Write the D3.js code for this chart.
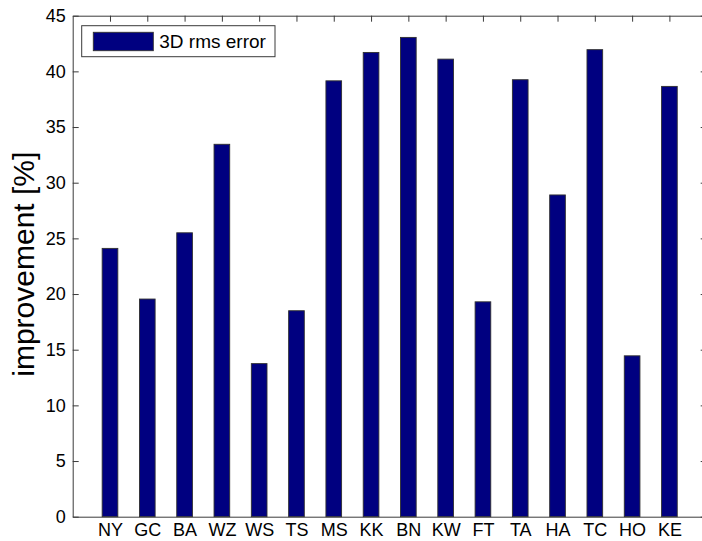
<!DOCTYPE html>
<html>
<head>
<meta charset="utf-8">
<script src="https://cdn.jsdelivr.net/npm/d3@7"></script>
<style>
  html, body { margin: 0; padding: 0; background: #fff; }
  svg { display: block; font-family: "Liberation Sans", Arial, Helvetica, sans-serif; }
</style>
</head>
<body>
<svg id="chart" width="702" height="541"></svg>
<script>
// Sites and their improvement of the 3D rms error, in percent
const sites = ["NY", "GC", "BA", "WZ", "WS", "TS", "MS", "KK", "BN", "KW", "FT", "TA", "HA", "TC", "HO", "KE"];
const improvement = [24.1, 19.55, 25.5, 33.45, 13.75, 18.5, 39.15, 41.7, 43.05, 41.1, 19.3, 39.25, 28.9, 41.95, 14.45, 38.65];
const yTicks = [0, 5, 10, 15, 20, 25, 30, 35, 40, 45];
const seriesName = "3D rms error";

const svg = d3.select("#chart");
const plotLeft = 72.7, plotRight = 706.7, plotTop = 15.7, plotBottom = 516.7;

const x = d3.scaleLinear().domain([0, sites.length + 1]).range([plotLeft, plotRight]);
const y = d3.scaleLinear().domain([0, 45]).range([plotBottom, plotTop]);
const barW = x(0.42) - x(0);
const idx = d3.range(1, sites.length + 1);

// bars
svg.append("g").selectAll("rect")
  .data(improvement)
  .join("rect")
  .attr("x", (d, i) => x(i + 1) - barW / 2)
  .attr("y", d => y(d))
  .attr("width", barW)
  .attr("height", d => y(0) - y(d))
  .attr("fill", "#000080")
  .attr("stroke", "#303030")
  .attr("stroke-width", 0.9);

const axisColor = "#3a3a3a";
const tickFont = 18;

function styleAxis(g) {
  g.selectAll(".domain").attr("stroke", axisColor).attr("stroke-width", 1);
  g.selectAll(".tick line").attr("stroke", axisColor).attr("stroke-width", 1);
  g.selectAll(".tick text").attr("fill", "#000").attr("font-size", tickFont)
    .attr("font-family", "'Liberation Sans', Arial, sans-serif");
}

// left axis with labels
svg.append("g")
  .attr("transform", `translate(${plotLeft},0)`)
  .call(d3.axisLeft(y).tickValues(yTicks).tickSizeInner(-6).tickSizeOuter(0).tickPadding(7))
  .call(styleAxis);

// right axis, ticks only
svg.append("g")
  .attr("transform", `translate(${plotRight},0)`)
  .call(d3.axisRight(y).tickValues(yTicks).tickSizeInner(-6).tickSizeOuter(0).tickFormat(""))
  .call(styleAxis);

// top axis, ticks only
svg.append("g")
  .attr("transform", `translate(0,${plotTop})`)
  .call(d3.axisTop(x).tickValues(idx).tickSizeInner(-6).tickSizeOuter(0).tickFormat(""))
  .call(styleAxis);

// bottom axis with site labels (ticks sit under the bars)
const bottomAxis = svg.append("g")
  .attr("transform", `translate(0,${plotBottom})`)
  .call(d3.axisBottom(x).tickValues(idx).tickSizeInner(-6).tickSizeOuter(0).tickPadding(7)
    .tickFormat(d => sites[d - 1]))
  .call(styleAxis);
bottomAxis.selectAll(".tick line").remove();

// y axis title
svg.append("text")
  .attr("transform", `translate(34,${(plotTop + plotBottom) / 2 - 2}) rotate(-90)`)
  .attr("text-anchor", "middle")
  .attr("font-size", 30)
  .attr("fill", "#000")
  .text("improvement [%]");

// legend
const lg = svg.append("g");
lg.append("rect")
  .attr("x", 81.7).attr("y", 25.7).attr("width", 193.3).attr("height", 31)
  .attr("fill", "#fff").attr("stroke", axisColor).attr("stroke-width", 1);
lg.append("rect")
  .attr("x", 93.3).attr("y", 32.3).attr("width", 60).attr("height", 18.4)
  .attr("fill", "#000080").attr("stroke", "#303030").attr("stroke-width", 0.9);
lg.append("text")
  .attr("x", 159.3).attr("y", 47.8)
  .attr("font-size", 19)
  .attr("fill", "#000")
  .text(seriesName);
</script>
</body>
</html>
